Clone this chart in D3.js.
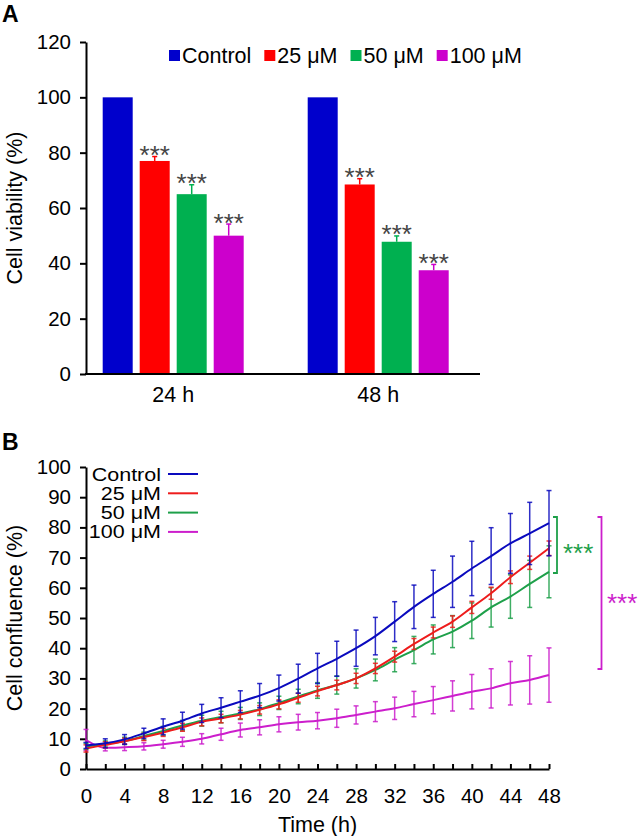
<!DOCTYPE html>
<html><head><meta charset="utf-8">
<script src="https://cdn.jsdelivr.net/npm/d3@7"></script>
<style>
body{margin:0;background:#fff;}
svg text{font-family:"Liberation Sans",Arial,sans-serif;}
</style></head>
<body><svg id="chart" width="638" height="836"></svg>
<script>
// ---------- Panel A data ----------
const groupsA = ["24 h", "48 h"];
const seriesA = ["Control", "25 μM", "50 μM", "100 μM"];
const colorsA = ["#0000CC", "#FF0000", "#00B050", "#CC00CC"];
const viability24 = [100, 77.0, 65.0, 50.0];
const viability48 = [100, 68.5, 47.8, 37.5];
const viabilityErr24 = [0, 1.6, 3.4, 4.2];
const viabilityErr48 = [0, 2.1, 2.1, 2.1];
const yTicksA = [0, 20, 40, 60, 80, 100, 120];

// ---------- Panel B data ----------
const timeB = [0,2,4,6,8,10,12,14,16,18,20,22,24,26,28,30,32,34,36,38,40,42,44,46,48];
const controlB = [7.8,8.5,9.8,11.8,14.0,16.0,18.4,20.3,22.3,24.3,26.8,29.9,33.3,36.5,40.0,44.0,48.8,53.7,58.0,62.0,66.4,70.5,74.7,78.0,81.4];
const controlErrB = [1.0,1.5,1.6,1.7,2.6,2.8,3.0,3.3,3.6,4.0,4.3,4.8,5.0,5.8,6.0,6.2,6.6,7.2,7.8,8.5,9.0,9.4,9.9,10.3,10.8];
const uM25B = [6.8,8.0,9.2,10.6,12.1,13.8,15.6,16.7,18.0,19.6,21.4,23.6,25.8,27.8,30.0,33.3,37.2,41.4,45.2,48.8,53.5,58.2,63.5,68.3,73.1];
const uM25ErrB = [1.2,1.0,1.0,1.2,1.3,1.3,1.3,1.4,1.4,1.4,1.5,1.5,1.6,1.6,1.7,1.7,1.8,1.8,1.8,1.9,2.0,2.0,2.1,2.2,2.4];
const uM50B = [7.5,8.3,9.3,10.9,12.6,14.4,16.0,17.2,18.4,19.8,21.9,24.0,26.0,27.8,30.0,32.8,36.2,39.4,42.9,45.5,49.1,53.5,57.1,61.3,65.3];
const uM50ErrB = [1.0,1.0,1.2,1.3,1.5,1.7,1.8,1.9,2.0,2.1,2.2,2.4,2.6,3.0,3.2,3.6,4.0,4.5,4.8,5.3,5.9,6.5,7.2,7.8,8.6];
const uM100B = [9.6,7.0,7.2,7.5,8.2,9.0,10.0,11.5,12.9,13.8,14.8,15.5,16.0,16.8,17.9,19.0,20.1,21.5,22.8,24.2,25.6,26.7,28.4,29.5,31.1];
const uM100ErrB = [3.5,1.0,1.1,1.2,1.3,1.5,1.7,2.0,2.3,2.5,2.5,2.6,2.7,3.0,3.0,3.3,3.7,4.2,4.5,5.0,5.7,6.5,7.2,8.0,9.0];
const seriesB = ["Control", "25 μM", "50 μM", "100 μM"];
const colorsB = ["#0A0ABE", "#EE1C1C", "#1EA04A", "#CC1ECC"];
const xTickLabelsB = [0,4,8,12,16,20,24,28,32,36,40,44,48];
const yTicksB = [0,10,20,30,40,50,60,70,80,90,100];

const svg = d3.select("#chart");
const FS = 20.5;   // tick labels
const FL = 21.5;   // titles / legends
const FF = "'Liberation Sans',Arial,sans-serif";

// ================= Panel A =================
const yA = d3.scaleLinear().domain([0,120]).range([374,42]);
const x0A = d3.scaleBand().domain(groupsA).range([70.7,480.7]).padding(0);
const x1A = d3.scaleBand().domain(seriesA).range([-70.5,70.5]).paddingInner(7/37).paddingOuter(0);

svg.append("text").attr("x",2).attr("y",22).attr("font-size",23).attr("font-weight","bold").text("A");

const gA = svg.append("g");
const dataA = groupsA.map((g,gi)=>seriesA.map((s,si)=>({g, s, si,
  v: gi===0 ? viability24[si] : viability48[si],
  e: gi===0 ? viabilityErr24[si] : viabilityErr48[si]})));

dataA.flat().forEach(d=>{
  const cx = x0A(d.g) + x0A.bandwidth()/2;
  const x = cx + x1A(d.s);
  const w = x1A.bandwidth();
  gA.append("rect").attr("x",x).attr("y",yA(d.v)).attr("width",w).attr("height",yA(0)-yA(d.v))
    .attr("fill",colorsA[d.si]);
  if (d.e>0){
    const mx = x + w/2;
    gA.append("line").attr("x1",mx).attr("x2",mx).attr("y1",yA(d.v)).attr("y2",yA(d.v+d.e))
      .attr("stroke",colorsA[d.si]).attr("stroke-width",1.5);
    gA.append("line").attr("x1",mx-2.5).attr("x2",mx+2.5).attr("y1",yA(d.v+d.e)).attr("y2",yA(d.v+d.e))
      .attr("stroke",colorsA[d.si]).attr("stroke-width",1.5);
    gA.append("text").attr("x",mx).attr("y",yA(d.v+d.e)+7.5).attr("text-anchor","middle")
      .attr("font-size",26).attr("fill","#444").text("***");
  }
});

// y axis A
const yAxisA = svg.append("g").attr("transform","translate(86,0)")
  .call(d3.axisLeft(yA).tickValues(yTicksA).tickSize(6).tickSizeOuter(0).tickPadding(9));
yAxisA.selectAll("text").attr("font-size",FS).attr("fill","#000").style("font-family",FF);
yAxisA.selectAll("line,path").attr("stroke","#000").attr("stroke-width",2);

// x axis A
svg.append("line").attr("x1",85).attr("x2",480).attr("y1",yA(0)).attr("y2",yA(0)).attr("stroke","#000").attr("stroke-width",2);
const xAxisA = svg.append("g").attr("transform",`translate(0,${yA(0)})`)
  .call(d3.axisBottom(x0A).tickSize(0).tickPadding(13));
xAxisA.select(".domain").remove();
xAxisA.selectAll("text").attr("font-size",FL).attr("fill","#000").style("font-family",FF);

svg.append("text").attr("transform",`translate(22,${(yA(0)+yA(120))/2}) rotate(-90)`)
  .attr("text-anchor","middle").attr("font-size",FL).text("Cell viability (%)");

// legend A
let lx = 169;
seriesA.forEach((s,i)=>{
  svg.append("rect").attr("x",lx).attr("y",50).attr("width",11).attr("height",11).attr("fill",colorsA[i]);
  const t = svg.append("text").attr("x",lx+13).attr("y",63).attr("font-size",FL).text(s);
  lx = lx + 13 + t.node().getComputedTextLength() + 13;
});

// ================= Panel B =================
svg.append("text").attr("x",2).attr("y",450).attr("font-size",23).attr("font-weight","bold").text("B");

const xB = d3.scaleLinear().domain([0,48]).range([86,549]);
const yB = d3.scaleLinear().domain([0,100]).range([769,467]);

const yAxisB = svg.append("g").attr("transform","translate(86,0)")
  .call(d3.axisLeft(yB).tickValues(yTicksB).tickSize(6).tickSizeOuter(0).tickPadding(9));
yAxisB.selectAll("text").attr("font-size",FS).attr("fill","#000").style("font-family",FF);
yAxisB.selectAll("line,path").attr("stroke","#000").attr("stroke-width",2);

const xAxisB = svg.append("g").attr("transform",`translate(0,${yB(0)})`)
  .call(d3.axisBottom(xB).tickValues(timeB).tickSize(-5).tickSizeOuter(0).tickFormat(""));
xAxisB.selectAll("line,path").attr("stroke","#000").attr("stroke-width",2);
const xAxisBL = svg.append("g").attr("transform",`translate(0,${yB(0)})`)
  .call(d3.axisBottom(xB).tickValues(xTickLabelsB).tickSize(0).tickPadding(19).tickFormat(d3.format("d")));
xAxisBL.select(".domain").remove();
xAxisBL.selectAll("text").attr("font-size",FS).attr("fill","#000").style("font-family",FF);

svg.append("text").attr("transform",`translate(22,${(yB(0)+yB(100))/2}) rotate(-90)`)
  .attr("text-anchor","middle").attr("font-size",FL).text("Cell confluence (%)");
svg.append("text").attr("x",(xB(0)+xB(48))/2).attr("y",832).attr("text-anchor","middle").attr("font-size",FL).text("Time (h)");

const valsB = [controlB, uM25B, uM50B, uM100B];
const errsB = [controlErrB, uM25ErrB, uM50ErrB, uM100ErrB];
const drawOrder = [3,2,1,0];
const line = d3.line().x(d=>xB(d.t)).y(d=>yB(d.v)).curve(d3.curveMonotoneX);
drawOrder.forEach(i=>{
  const pts = timeB.map((t,k)=>({t, v: valsB[i][k], e: errsB[i][k]}));
  const g = svg.append("g");
  pts.forEach(p=>{
    const x = xB(p.t);
    g.append("line").attr("x1",x).attr("x2",x).attr("y1",yB(p.v-p.e)).attr("y2",yB(p.v+p.e))
      .attr("stroke",colorsB[i]).attr("stroke-width",1.5).attr("opacity",0.85);
    [p.v-p.e, p.v+p.e].forEach(v=>{
      g.append("line").attr("x1",x-2.5).attr("x2",x+2.5).attr("y1",yB(v)).attr("y2",yB(v))
        .attr("stroke",colorsB[i]).attr("stroke-width",1.5).attr("opacity",0.85);
    });
  });
  g.append("path").datum(pts).attr("d",line).attr("fill","none").attr("stroke",colorsB[i]).attr("stroke-width",2);
});

// legend B (slightly smaller glyph height, width kept as in the reference)
const legYB = [474, 493.3, 512.6, 531.9];
const FLB = 18.5;
seriesB.forEach((s,i)=>{
  const t = svg.append("text").attr("x",161).attr("y",legYB[i]+6.5).attr("text-anchor","end")
    .attr("font-size",FLB).text(s);
  const w = t.node().getComputedTextLength() * FL / FLB;
  t.attr("textLength", w).attr("lengthAdjust","spacingAndGlyphs");
  svg.append("line").attr("x1",168).attr("x2",198).attr("y1",legYB[i]).attr("y2",legYB[i])
    .attr("stroke",colorsB[i]).attr("stroke-width",2);
});

// significance brackets
function bracket(x, y1, y2, color){
  svg.append("path").attr("d",`M${x-4},${y1}H${x}V${y2}H${x-4}`).attr("fill","none")
    .attr("stroke",color).attr("stroke-width",1.8);
}
bracket(557, 517, 573, colorsB[2]);
svg.append("text").attr("x",563).attr("y",562).attr("font-size",26).attr("fill",colorsB[2]).text("***");
bracket(601.5, 517, 669, colorsB[3]);
svg.append("text").attr("x",607).attr("y",612).attr("font-size",26).attr("fill",colorsB[3]).text("***");
</script></body></html>
